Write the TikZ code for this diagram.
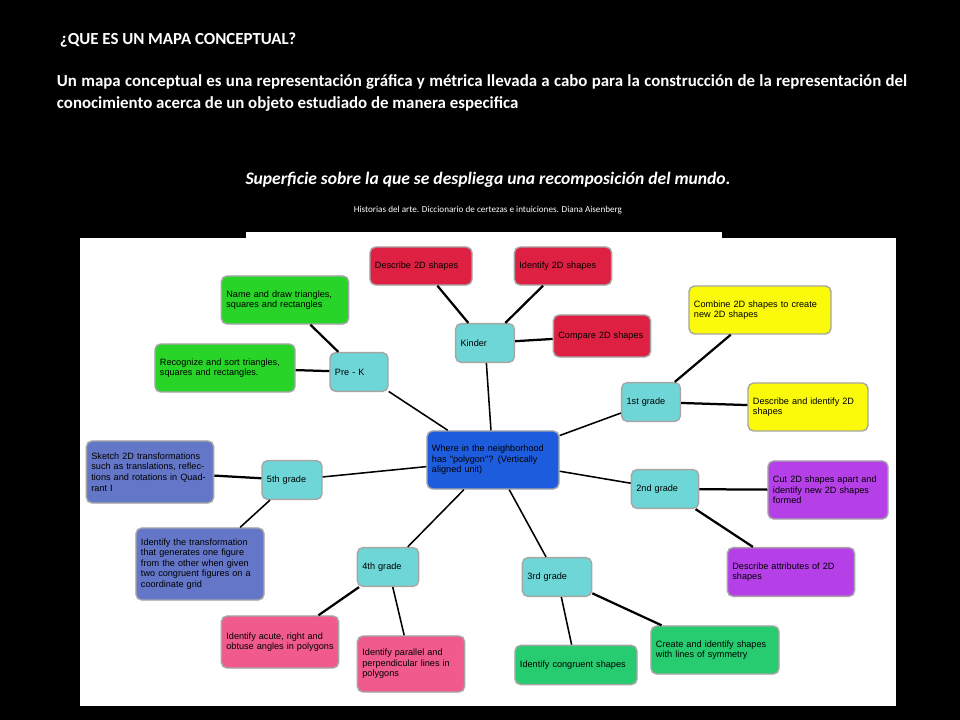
\documentclass[tikz,border=0pt]{standalone}
\usepackage{fontspec}
\setmainfont{Carlito}
\newfontfamily\boxfont{Liberation Sans}
\usetikzlibrary{positioning}
\definecolor{kred}{RGB}{222,32,66}
\definecolor{kgreen}{RGB}{40,212,40}
\definecolor{kcyan}{RGB}{110,214,214}
\definecolor{kyellow}{RGB}{250,250,10}
\definecolor{kblue}{RGB}{30,92,222}
\definecolor{kslate}{RGB}{100,118,200}
\definecolor{kpurple}{RGB}{182,64,232}
\definecolor{kpink}{RGB}{240,90,140}
\definecolor{kteal}{RGB}{40,204,112}

\begin{document}
\begin{tikzpicture}[
    x=0.025cm, y=-0.025cm,
    concept/.style={draw=gray!70, line width=1pt, rounded corners=4pt, align=left,
      inner sep=0.125cm, font=\boxfont\fontsize{6.5}{7.5}\selectfont},
    grade/.style={concept, fill=kcyan, text width=#1, minimum height=0.97cm},
    link/.style={line width=1.6pt},
    thin link/.style={line width=1.1pt}
]

% Background
\fill[black] (0,0) rectangle (960,720);
\fill[white] (80,238) rectangle (896,706);
\fill[white] (246,232) rectangle (722,238);

% Header
\node[anchor=west, text=white, font=\bfseries\fontsize{12}{14}\selectfont] (title) at (55,40) {¿QUE ES UN MAPA CONCEPTUAL?};
\node[anchor=north west, text=white, text width=21.25cm, align=justify, font=\bfseries\fontsize{12}{15.5}\selectfont] (def) at (52,70)
  {Un mapa conceptual es una representación gráfica y métrica llevada a cabo para la construcción de la representación del conocimiento acerca de un objeto estudiado de manera especifica};
\node[text=white, font=\bfseries\itshape\fontsize{12.5}{14}\selectfont] (quote) at (488,180) {Superficie sobre la que se despliega una recomposición del mundo.};
\node[text=white, font=\fontsize{6.5}{8}\selectfont] (source) at (488,210) {Historias del arte. Diccionario de certezas e intuiciones. Diana Aisenberg};

% Centre
\node[concept, fill=kblue, text width=3.05cm, minimum height=1.45cm] (centre) at (493,460) {Where in the neighborhood has "polygon"? (Vertically aligned unit)};

% Grades
\node[grade=1.2cm] (prek) at (359,372) {Pre - K};
\node[grade=1.22cm] (kinder) at (485,343) {Kinder};
\node[grade=1.22cm] (first) at (651,402) {1st grade};
\node[grade=1.43cm] (second) at (665,489) {2nd grade};
\node[grade=1.48cm] (third) at (557,577) {3rd grade};
\node[grade=1.28cm] (fourth) at (388,567) {4th grade};
\node[grade=1.25cm] (fifth) at (292,480) {5th grade};

% Goals
\node[concept, fill=kgreen, text width=2.93cm, minimum height=1.2cm] (namedraw) at (285,300) {Name and draw triangles, squares and rectangles};
\node[concept, fill=kgreen, text width=3.25cm, minimum height=1.2cm] (recognize) at (225,368) {Recognize and sort triangles, squares and rectangles.};
\node[concept, fill=kred, text width=2.3cm, minimum height=0.95cm] (describe) at (421,266) {Describe 2D shapes};
\node[concept, fill=kred, text width=2.18cm, minimum height=0.95cm] (identify) at (563,266) {Identify 2D shapes};
\node[concept, fill=kred, text width=2.18cm, minimum height=1.05cm] (compare) at (602,336) {Compare 2D shapes};
\node[concept, fill=kyellow, text width=3.3cm, minimum height=1.2cm] (combine) at (760,310) {Combine 2D shapes to create new 2D shapes};
\node[concept, fill=kyellow, text width=2.75cm, minimum height=1.2cm] (descident) at (808,407) {Describe and identify 2D shapes};
\node[concept, fill=kpurple, text width=2.75cm, minimum height=1.45cm] (cut) at (828,490) {Cut 2D shapes apart and identify new 2D shapes formed};
\node[concept, fill=kpurple, text width=2.93cm, minimum height=1.22cm] (attributes) at (791,572) {Describe attributes of 2D shapes};
\node[concept, fill=kteal, text width=2.95cm, minimum height=1.2cm] (symmetry) at (715,650) {Create and identify shapes with lines of symmetry};
\node[concept, fill=kteal, text width=2.8cm, minimum height=0.98cm] (congruent) at (576,665) {Identify congruent shapes};
\node[concept, fill=kpink, text width=2.43cm, minimum height=1.4cm] (parallel) at (411,664) {Identify parallel and perpendicular lines in polygons};
\node[concept, fill=kpink, text width=2.68cm, minimum height=1.3cm] (angles) at (280,642) {Identify acute, right and obtuse angles in polygons};
\node[concept, fill=kslate, text width=2.95cm, minimum height=1.8cm] (transform) at (200,564) {Identify the transformation that generates one figure from the other when given two congruent figures on a coordinate grid};
\node[concept, fill=kslate, text width=2.93cm, minimum height=1.55cm] (sketch) at (150,472) {Sketch 2D transformations such as translations, reflections and rotations in Quadrant I};

% Connectors
\draw[thin link] (centre) -- (prek);
\draw[thin link] (centre) -- (kinder);
\draw[thin link] (centre) -- (first);
\draw[thin link] (centre) -- (second);
\draw[thin link] (centre) -- (third);
\draw[thin link] (centre) -- (fourth);
\draw[thin link] (centre) -- (fifth);
\draw[link] (prek) -- (namedraw);
\draw[link] (prek) -- (recognize);
\draw[link] (kinder) -- (describe);
\draw[link] (kinder) -- (identify);
\draw[link] (kinder) -- (compare);
\draw[link] (first) -- (combine);
\draw[link] (first) -- (descident);
\draw[link] (second) -- (cut);
\draw[link] (second) -- (attributes);
\draw[link] (third) -- (symmetry);
\draw[thin link] (third) -- (congruent);
\draw[thin link] (fourth) -- (parallel);
\draw[link] (fourth) -- (angles);
\draw[link] (fifth) -- (sketch);
\draw[thin link] (fifth) -- (transform);
\end{tikzpicture}
\end{document}
